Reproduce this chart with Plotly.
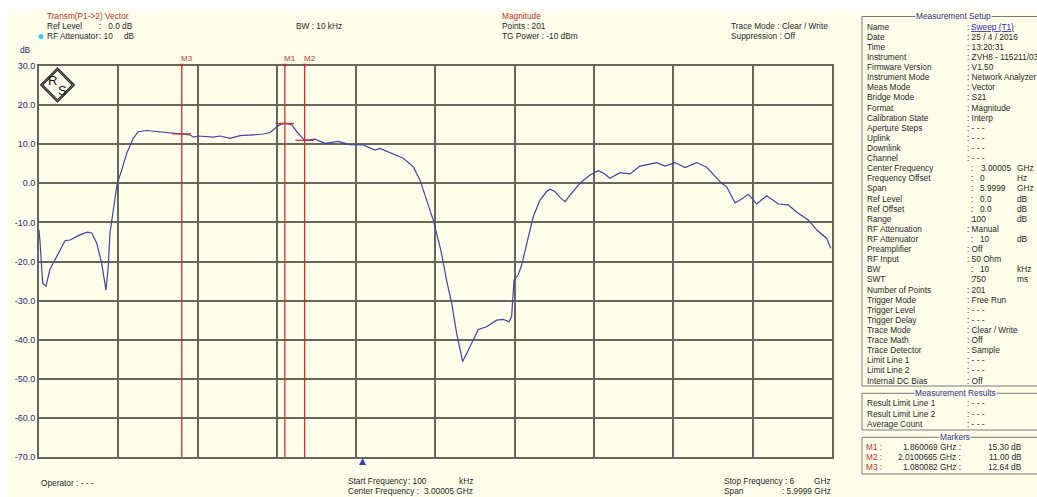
import plotly.graph_objects as go

# ---------------- data ----------------
freq_ghz = [0.0001, 0.008, 0.028, 0.053, 0.083, 0.121, 0.159, 0.197, 0.235, 0.310,
            0.365, 0.399, 0.437, 0.474, 0.507, 0.524, 0.537, 0.562, 0.592, 0.626,
            0.664, 0.713, 0.751, 0.815, 0.916, 0.991, 1.080, 1.143, 1.168, 1.205,
            1.319, 1.370, 1.445, 1.521, 1.621, 1.697, 1.748, 1.786, 1.823, 1.860,
            1.912, 1.950, 2.010, 2.088, 2.164, 2.265, 2.353, 2.454, 2.542, 2.580,
            2.681, 2.756, 2.832, 2.883, 2.933, 2.983, 3.040, 3.085, 3.123, 3.160,
            3.206, 3.261, 3.324, 3.387, 3.463, 3.513, 3.558, 3.576, 3.594, 3.626,
            3.652, 3.690, 3.740, 3.791, 3.841, 3.866, 3.904, 3.942, 3.980, 4.018,
            4.093, 4.169, 4.232, 4.270, 4.320, 4.396, 4.472, 4.547, 4.610, 4.674,
            4.737, 4.812, 4.888, 4.976, 5.052, 5.115, 5.165, 5.203, 5.266, 5.304,
            5.367, 5.430, 5.506, 5.594, 5.669, 5.733, 5.821, 5.884, 5.960, 5.990]
mag_db = [-11.9, -15.0, -25.6, -26.3, -22.0, -19.6, -17.0, -14.7, -14.5, -13.2,
          -12.5, -12.7, -15.3, -20.4, -27.3, -21.3, -12.7, -6.8, 0.0, 3.4,
          7.7, 11.5, 13.2, 13.5, 13.2, 12.8, 12.64, 12.4, 11.8, 12.1,
          11.8, 12.1, 11.5, 12.2, 12.4, 12.6, 13.0, 14.1, 15.0, 15.3,
          15.0, 13.2, 11.0, 11.3, 10.2, 10.7, 9.9, 9.8, 8.5, 8.9,
          7.5, 6.4, 4.2, 0.8, -4.3, -9.4, -17.0, -25.0, -30.7, -38.4,
          -45.6, -41.8, -37.4, -36.7, -35.0, -34.8, -35.4, -34.0, -24.7, -23.4,
          -20.9, -15.5, -8.5, -4.3, -2.1, -1.5, -2.1, -3.6, -4.7, -3.0,
          0.0, 2.1, 3.2, 2.6, 1.3, 2.7, 2.4, 4.4, 4.9, 5.3,
          4.4, 5.3, 4.0, 5.3, 4.1, 1.7, 0.0, -0.9, -5.0, -4.3,
          -2.8, -5.3, -3.2, -5.3, -5.5, -7.4, -9.4, -11.9, -14.1, -16.6]

marker_names = ["M1", "M2", "M3"]
marker_freq_ghz = [1.860069, 2.0100665, 1.080082]
marker_db = [15.30, 11.00, 12.64]

start_ghz, stop_ghz = 0.0001, 6.0
y_ticks = [30, 20, 10, 0, -10, -20, -30, -40, -50, -60, -70]
grid_x = [0.6, 1.2, 1.8, 2.4, 3.0, 3.6, 4.2, 4.8, 5.4]
center_marker_ghz = 2.45

setup_labels = ["Name", "Date", "Time", "Instrument", "Firmware Version", "Instrument Mode",
                "Meas Mode", "Bridge Mode", "Format", "Calibration State", "Aperture Steps",
                "Uplink", "Downlink", "Channel", "Center Frequency", "Frequency Offset", "Span",
                "Ref Level", "Ref Offset", "Range", "RF Attenuation", "RF Attenuator",
                "Preamplifier", "RF Input", "BW", "SWT", "Number of Points", "Trigger Mode",
                "Trigger Level", "Trigger Delay", "Trace Mode", "Trace Math", "Trace Detector",
                "Limit Line 1", "Limit Line 2", "Internal DC Bias"]
setup_values = ["Sweep (T1)", "25 / 4 / 2016", "13:20:31", "ZVH8 - 115211/03", "V1.50",
                "Network Analyzer", "Vector", "S21", "Magnitude", "Interp", "- - -",
                "- - -", "- - -", "- - -", "3.00005", "0", "5.9999", "0.0", "0.0", "100",
                "Manual", "10", "Off", "50 Ohm", "10", "750", "201", "Free Run", "- - -",
                "- - -", "Clear / Write", "Off", "Sample", "- - -", "- - -", "Off"]
setup_units = ["", "", "", "", "", "", "", "", "", "", "", "", "", "", "GHz", "Hz", "GHz",
               "dB", "dB", "dB", "", "dB", "", "", "kHz", "ms", "", "", "", "", "", "", "",
               "", "", ""]
result_labels = ["Result Limit Line 1", "Result Limit Line 2", "Average Count"]
result_values = ["- - -", "- - -", "- - -"]

# ---------------- styling ----------------
W, H = 1037, 497
L, R, T, B = 39, 832, 66, 457
CREAM = "#FEFEEA"
GRID = "#66665a"
FONT = "Liberation Sans, Arial, sans-serif"
FS = 8.3
RED = "#c0302c"
BLUE_T = "#2e2e8a"
TXT = "#1e1e1e"


def X(px):
    return (px - L) / (R - L)


def Y(py):
    return (B - py) / (B - T)


annotations = []
shapes = []


def ann(px, py, text, color=TXT, anchor="left", size=FS, bg=None):
    d = dict(x=X(px), y=Y(py), xref="paper", yref="paper", text=text, showarrow=False,
             xanchor=anchor, yanchor="middle", font=dict(family=FONT, size=size, color=color),
             borderpad=0)
    if bg:
        d["bgcolor"] = bg
    annotations.append(d)


def hline(x0, x1, py, color="#7a7a7a", w=1):
    shapes.append(dict(type="line", xref="paper", yref="paper", x0=X(x0), x1=X(x1),
                       y0=Y(py), y1=Y(py), line=dict(color=color, width=w)))


def vline(px, y0, y1, color="#7a7a7a", w=1):
    shapes.append(dict(type="line", xref="paper", yref="paper", x0=X(px), x1=X(px),
                       y0=Y(y0), y1=Y(y1), line=dict(color=color, width=w)))


# cream background panel (white border top/left)
shapes.append(dict(type="rect", xref="paper", yref="paper", x0=X(7), x1=X(W + 5),
                   y0=Y(H + 5), y1=Y(10), fillcolor=CREAM, line=dict(width=0), layer="below"))

fig = go.Figure()

# main trace
fig.add_trace(go.Scatter(x=freq_ghz, y=mag_db, mode="lines",
                         line=dict(color="#4242a8", width=1.2), hoverinfo="skip"))

# marker lines
for name, f, v in zip(marker_names, marker_freq_ghz, marker_db):
    fig.add_trace(go.Scatter(x=[f, f], y=[-70, 30], mode="lines",
                             line=dict(color="#d03030", width=1.3), hoverinfo="skip"))
    fig.add_trace(go.Scatter(x=[f - 0.07, f + 0.07], y=[v, v], mode="lines",
                             line=dict(color="#d03030", width=1.3), hoverinfo="skip"))
    annotations.append(dict(x=f, y=Y(64.5), xref="x", yref="paper", text="▼", showarrow=False,
                            xanchor="center", yanchor="middle",
                            font=dict(family="DejaVu Sans", size=5, color="#d03030")))
    annotations.append(dict(x=f, y=Y(58), xref="x", yref="paper", text=name, showarrow=False,
                            xanchor="left", xshift=-3, yanchor="middle",
                            font=dict(family=FONT, size=8, color="#c03030")))

# centre-frequency triangle below axis
annotations.append(dict(x=center_marker_ghz, y=Y(461), xref="x", yref="paper", text="▲",
                        showarrow=False, xanchor="center", yanchor="middle",
                        font=dict(family="DejaVu Sans", size=9, color="#2a3cb0")))

# ---------------- header texts ----------------
ann(46, 16.5, "Transm(P1-&gt;2) Vector", RED)
ann(46, 26.5, "Ref Level")
ann(98, 26.5, ":   0.0 dB")
ann(46, 36.5, "RF Attenuator")
ann(98, 36.5, ": 10")
ann(123, 36.5, "dB")
shapes.append(dict(type="circle", xref="paper", yref="paper", x0=X(38.5), x1=X(43.5),
                   y0=Y(39), y1=Y(34), fillcolor="#3cc8ec", line=dict(width=0)))
ann(295, 26.5, "BW : 10 kHz")
ann(501, 16.5, "Magnitude", RED)
ann(501, 26.5, "Points")
ann(526, 26.5, ": 201")
ann(501, 36.5, "TG Power : -10 dBm")
ann(730, 26.5, "Trace Mode : Clear / Write")
ann(730, 36.5, "Suppression : Off")
ann(25, 50, "dB", "#2a2a6a", anchor="center", size=8.3)

# footer
ann(40, 483, "Operator : - - -")
ann(346.5, 481, "Start Frequency")
ann(407, 481, ": 100")
ann(474, 481, "kHz", anchor="right")
ann(346.5, 491, "Center Frequency :")
ann(474, 491, "3.00005 GHz", anchor="right")
ann(722.5, 481, "Stop Frequency : 6")
ann(832, 481, "GHz", anchor="right")
ann(722.5, 491, "Span")
ann(832, 491, ": 5.9999 GHz", anchor="right")

# ---------------- R&S logo ----------------
cx, cy, hd = 57.5, 85, 17
for d in (hd, hd - 2.2):
    path = (f"M {X(cx)},{Y(cy - d)} L {X(cx + d)},{Y(cy)} L {X(cx)},{Y(cy + d)} "
            f"L {X(cx - d)},{Y(cy)} Z")
    shapes.append(dict(type="path", xref="paper", yref="paper", path=path,
                       line=dict(color="#222", width=1.2)))
ann(52.5, 80.5, "R", "#222", anchor="center", size=13)
ann(62, 90.5, "S", "#222", anchor="center", size=13)

# ---------------- right panel ----------------
BX = 862
hline(BX, W + 5, 16.5)
vline(BX, 16.5, 386)
hline(BX, W + 5, 386)
ann(953, 16.5, "Measurement Setup", BLUE_T, anchor="center", bg=CREAM)
row0, dy = 26.7, 10.11
for i, (lab, val, unit) in enumerate(zip(setup_labels, setup_values, setup_units)):
    py = row0 + i * dy
    ann(866, py, lab)
    if unit:
        ann(970, py, ":")
        vx = 979.5 if lab == "Center Frequency" else (970.5 if val in ("100", "750") else 979)
        ann(vx, py, val)
        ann(1016, py, unit)
    elif lab == "Name":
        ann(966, py, ":")
        ann(970, py, "<u>" + val + "</u>", "#2a2ab4")
    else:
        ann(966, py, ": " + val)

hline(BX, W + 5, 393.3)
vline(BX, 393.3, 430)
hline(BX, W + 5, 430)
ann(955, 393.3, "Measurement Results", BLUE_T, anchor="center", bg=CREAM)
for i, (lab, val) in enumerate(zip(result_labels, result_values)):
    py = 403.3 + i * 10.2
    ann(866, py, lab)
    ann(966, py, ": " + val)

hline(BX, W + 5, 437.3)
vline(BX, 437.3, 474)
hline(BX, W + 5, 474)
ann(955, 437.3, "Markers", BLUE_T, anchor="center", bg=CREAM)
for i, (name, f, v) in enumerate(zip(marker_names, marker_freq_ghz, marker_db)):
    py = 447.3 + i * 10
    ann(865, py, name + " :", "#c03030")
    fs = f"{f:.7f}".rstrip("0") if name == "M2" else f"{f:.6f}"
    ann(962, py, fs + " GHz :", anchor="right")
    ann(1023, py, f"{v:.2f} dB", anchor="right")

# ---------------- layout ----------------
fig.update_layout(
    width=W, height=H, autosize=False,
    margin=dict(l=L, r=W - R, t=T, b=H - B, pad=0),
    paper_bgcolor="white", plot_bgcolor=CREAM,
    showlegend=False,
    shapes=shapes,
    annotations=annotations,
    xaxis=dict(range=[start_ghz, stop_ghz], tickvals=grid_x, showticklabels=False,
               showgrid=True, gridcolor=GRID, gridwidth=2, zeroline=False,
               showline=True, mirror=True, linecolor=GRID, linewidth=2, ticks=""),
    yaxis=dict(range=[-70, 30], tickvals=y_ticks, ticktext=[f"{v:.1f}" for v in y_ticks],
               showgrid=True, gridcolor=GRID, gridwidth=2, zeroline=False,
               showline=True, mirror=True, linecolor=GRID, linewidth=2, ticks="",
               tickfont=dict(family=FONT, size=9, color="#2a2a6a")),
)

fig.write_html("out.html", config={"displayModeBar": False},
               post_script="document.body.style.margin='0';document.body.style.padding='0';")
